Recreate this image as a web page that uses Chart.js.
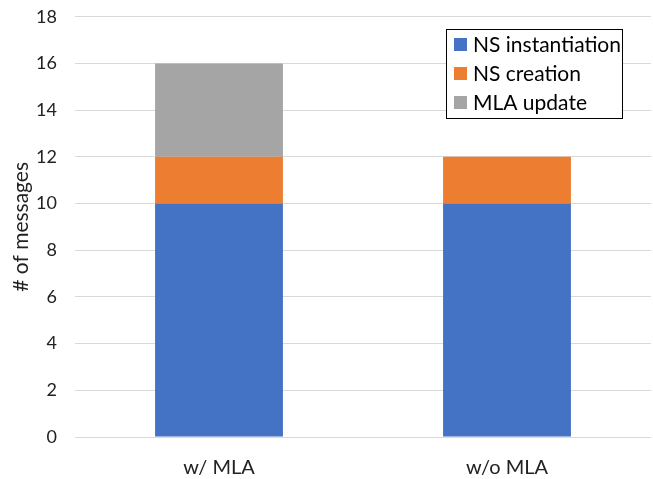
<!DOCTYPE html>
<html>
<head>
<meta charset="utf-8">
<script src="https://cdn.jsdelivr.net/npm/chart.js@4/dist/chart.umd.min.js"></script>
<style>
  html, body { margin: 0; padding: 0; background: #fff; }
  #wrap { width: 653px; height: 479px; }
</style>
</head>
<body>
<div id="wrap"><canvas id="chart"></canvas></div>
<script>
// categories and stacked series
const categories = ['w/ MLA', 'w/o MLA'];
const nsInstantiation = [10, 10];
const nsCreation = [2, 2];
const mlaUpdate = [4, 0];

const FONT = 'Lato, "Open Sans", sans-serif';

// legend drawn as a framed box in the top-right of the plot area
const boxedLegend = {
    id: 'boxedLegend',
    afterDraw(chart) {
        const ctx = chart.ctx;
        const x = 446, y = 29, w = 176, h = 89;
        ctx.save();
        ctx.fillStyle = '#fff';
        ctx.fillRect(x, y, w, h);
        ctx.strokeStyle = '#000';
        ctx.lineWidth = 1;
        ctx.strokeRect(x + 0.5, y + 0.5, w, h);
        ctx.font = '21px ' + FONT;
        ctx.textBaseline = 'middle';
        chart.data.datasets.forEach((ds, i) => {
            const cy = y + 15 + i * 29;
            ctx.fillStyle = ds.backgroundColor;
            ctx.fillRect(x + 8, cy - 6, 13, 13);
            ctx.fillStyle = '#000';
            ctx.fillText(ds.label, x + 27, cy + 1);
        });
        ctx.restore();
    }
};

new Chart(document.getElementById('chart'), {
    type: 'bar',
    data: {
        labels: categories,
        datasets: [
            { label: 'NS instantiation', data: nsInstantiation, backgroundColor: '#4472C4' },
            { label: 'NS creation', data: nsCreation, backgroundColor: '#ED7D31' },
            { label: 'MLA update', data: mlaUpdate, backgroundColor: '#A5A5A5' }
        ]
    },
    options: {
        responsive: true,
        maintainAspectRatio: false,
        animation: false,
        barPercentage: 0.444,
        categoryPercentage: 1,
        layout: { padding: { top: 0, right: 2, left: 0, bottom: -20 } },
        plugins: {
            legend: { display: false },
            tooltip: { enabled: false }
        },
        scales: {
            x: {
                stacked: true,
                grid: { display: false, drawTicks: false },
                border: { display: false },
                ticks: { color: '#222', font: { family: FONT, size: 20 }, padding: 19 }
            },
            y: {
                stacked: true,
                min: 0,
                max: 18,
                afterFit(scale) { scale.width = 75; },
                grid: { color: '#d9d9d9', tickLength: 12, tickColor: 'transparent' },
                border: { display: false },
                ticks: { stepSize: 2, color: '#222', font: { family: FONT, size: 18 }, padding: 6 },
                title: { display: true, text: '# of messages', color: '#222', font: { family: FONT, size: 21 }, padding: { top: 9, bottom: 0 } }
            }
        }
    },
    plugins: [boxedLegend]
});
</script>
</body>
</html>
